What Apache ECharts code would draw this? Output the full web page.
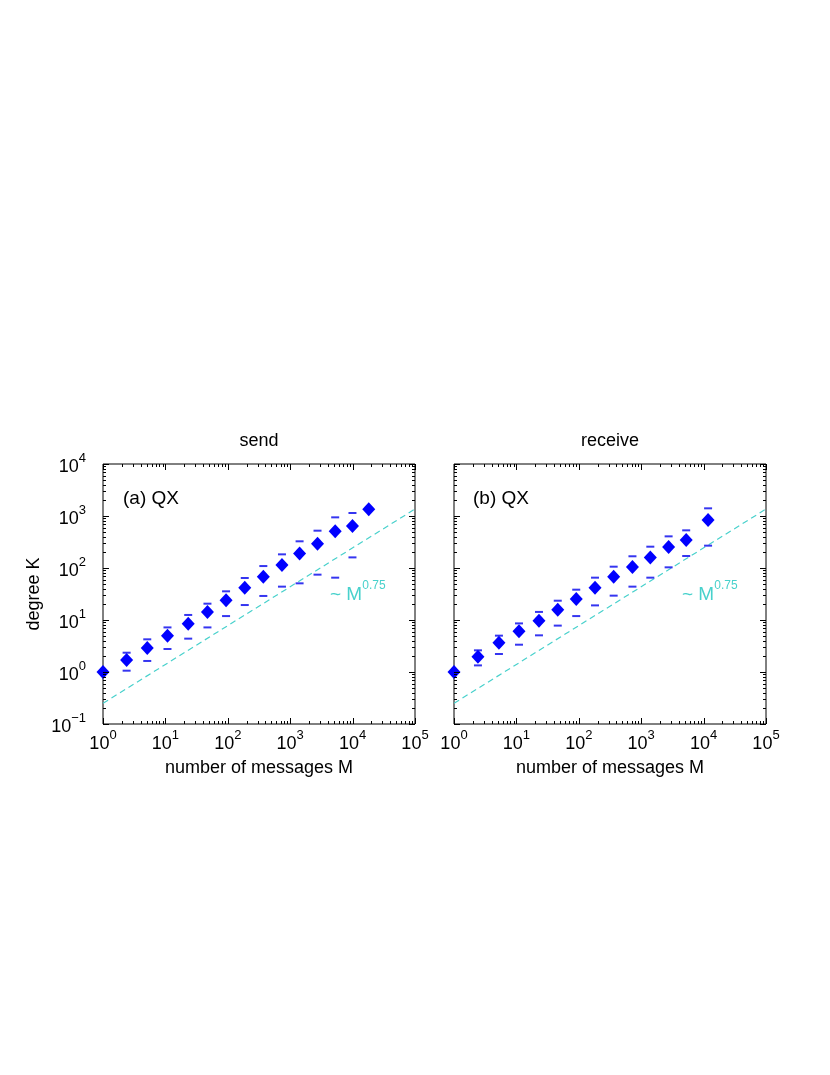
<!DOCTYPE html>
<html><head><meta charset="utf-8">
<script src="https://cdn.jsdelivr.net/npm/echarts@6/dist/echarts.min.js"></script>
<style>html,body{margin:0;padding:0;background:#fff}#c{width:830px;height:1075px}</style>
</head><body><div id="c"></div>
<script>
// ---- data ----
const sendM  = [1, 2.39, 5.12, 10.8, 23.2, 47.2, 93.8, 187, 371, 738, 1414, 2740, 5260, 9950, 18150];
const sendK  = [1, 1.70, 2.90, 5.0, 8.5, 14.3, 23.9, 41.9, 68.1, 114, 189, 294, 507, 642, 1343];
const sendHi = [null, 2.35, 4.25, 7.2, 12.5, 20.6, 35.6, 64.3, 109, 183, 326, 522, 942, 1142, null];
const sendLo = [null, 1.06, 1.63, 2.77, 4.38, 7.2, 11.9, 19.4, 29.0, 43.8, 50.7, 74.5, 65.2, 160, null];

const recvM  = [1, 2.42, 5.25, 11.0, 23.0, 46.0, 91.0, 182, 362, 724, 1400, 2750, 5260, 11800];
const recvK  = [1, 1.97, 3.66, 6.05, 9.7, 15.8, 25.3, 41.9, 68.1, 105, 160, 253, 345, 838];
const recvHi = [null, 2.61, 5.0, 8.6, 14.3, 23.5, 38.3, 65.2, 106, 168, 257, 406, 530, 1404];
const recvLo = [null, 1.34, 2.22, 3.35, 5.07, 7.8, 11.9, 19.1, 29.4, 43.8, 65.2, 103, 170, 269];

const guideM = [1, 100000];          // ~ M^0.75 guide line end points
const guideK = [0.25, 1360];

const titles = ['send', 'receive'];
const panelLabels = ['(a) QX', '(b) QX'];
const xTitle = 'number of messages M';
const yTitle = 'degree K';
const xExp = [0, 1, 2, 3, 4, 5];
const yExp = [-1, 0, 1, 2, 3, 4];

// ---- build ----
const FONT = '"Liberation Sans", Arial, Helvetica, sans-serif';
const BLUE = '#0000ff';
const BAR = '#3535f0';
const CYAN = '#48d1cc';

const pair = (xs, ys) => xs.map((x, i) => [x, ys[i]]).filter(p => p[1] != null);

function expLabel(v) {
  const e = Math.round(Math.log10(v));
  return '{b|10}{s|' + (e < 0 ? '\u2212' + (-e) : e) + '}';
}
const labelRich = {
  b: { fontSize: 18, fontFamily: FONT, color: '#000', lineHeight: 24, verticalAlign: 'bottom' },
  s: { fontSize: 13, fontFamily: FONT, color: '#000', lineHeight: 13, verticalAlign: 'top' }
};

const xMin = Math.pow(10, xExp[0]), xMax = Math.pow(10, xExp[xExp.length - 1]);
const yMin = Math.pow(10, yExp[0]), yMax = Math.pow(10, yExp[yExp.length - 1]);

// tick values (axis decoration): majors at decades, minors at 2..9 x decade
function tickVals(exps) {
  const out = [];
  for (let i = 0; i < exps.length - 1; i++) {
    const d = Math.pow(10, exps[i]);
    for (let k = 1; k <= 9; k++) out.push({ v: k * d, major: k === 1 });
  }
  out.push({ v: Math.pow(10, exps[exps.length - 1]), major: true });
  return out;
}
const xTicks = tickVals(xExp), yTicks = tickVals(yExp);

function tickSeries(gi) {
  return {
    type: 'custom', xAxisIndex: gi, yAxisIndex: gi, data: [[1, 1]], silent: true, clip: false, z: 10,
    renderItem(params, api) {
      const bl = api.coord([xMin, yMin]);
      const tr = api.coord([xMax, yMax]);
      const ch = [];
      const ln = (x1, y1, x2, y2) => ({ type: 'line', shape: { x1, y1, x2, y2 }, style: { stroke: '#000', lineWidth: 1 } });
      xTicks.forEach(t => {
        const p = Math.round(api.coord([t.v, 1])[0]) + 0.5;
        const L = t.major ? 6 : 3;
        ch.push(ln(p, bl[1], p, bl[1] - L));
        ch.push(ln(p, tr[1], p, tr[1] + L));
      });
      yTicks.forEach(t => {
        const p = Math.round(api.coord([1, t.v])[1]) + 0.5;
        const L = t.major ? 6 : 3;
        ch.push(ln(bl[0], p, bl[0] + L, p));
        ch.push(ln(tr[0], p, tr[0] - L, p));
      });
      return { type: 'group', children: ch };
    }
  };
}

const grids = [
  { left: 103, top: 464, width: 312, height: 260 },
  { left: 454, top: 464, width: 312, height: 260 }
].map(g => Object.assign(g, { show: true, borderColor: '#000', borderWidth: 1, backgroundColor: 'transparent' }));

const xAxes = [0, 1].map(i => ({
  type: 'log', logBase: 10, gridIndex: i, min: xMin, max: xMax,
  axisLine: { show: false }, axisTick: { show: false }, splitLine: { show: false },
  axisLabel: { formatter: expLabel, rich: labelRich, margin: 5, showMinLabel: true, showMaxLabel: true },
  name: xTitle, nameLocation: 'middle', nameGap: 35,
  nameTextStyle: { fontSize: 18, fontFamily: FONT, color: '#000' }
}));
const yAxes = [0, 1].map(i => ({
  type: 'log', logBase: 10, gridIndex: i, min: yMin, max: yMax,
  axisLine: { show: false }, axisTick: { show: false }, splitLine: { show: false },
  axisLabel: { show: i === 0, formatter: expLabel, rich: labelRich, margin: 17, showMinLabel: true, showMaxLabel: true },
  name: i === 0 ? yTitle : '', nameLocation: 'middle', nameGap: 60, nameRotate: 90,
  nameTextStyle: { fontSize: 18, fontFamily: FONT, color: '#000' }
}));

const panels = [
  { M: sendM, K: sendK, hi: sendHi, lo: sendLo },
  { M: recvM, K: recvK, hi: recvHi, lo: recvLo }
];
const series = [];
panels.forEach((p, i) => {
  series.push({
    type: 'line', xAxisIndex: i, yAxisIndex: i, data: pair(guideM, guideK), showSymbol: false,
    lineStyle: { color: CYAN, width: 1.2, type: [6, 4] }, silent: true, z: 2
  });
  series.push({
    type: 'scatter', xAxisIndex: i, yAxisIndex: i, data: pair(p.M, p.hi).concat(pair(p.M, p.lo)),
    symbol: 'rect', symbolSize: [8, 2], itemStyle: { color: BAR, opacity: 1 }, silent: true, z: 3
  });
  series.push({
    type: 'scatter', xAxisIndex: i, yAxisIndex: i, data: pair(p.M, p.K),
    symbol: 'diamond', symbolSize: [13, 14], itemStyle: { color: BLUE, opacity: 1 }, silent: true, z: 4
  });
  series.push(tickSeries(i));
});

const txt = (text, x, y, align, extra) => ({
  type: 'text', x, y, silent: true,
  style: Object.assign({ text, fontSize: 18, fontFamily: FONT, fill: '#000', textAlign: align, textVerticalAlign: 'middle' }, extra || {})
});
const powRich = {
  a: { fontSize: 19, fontFamily: FONT, fill: CYAN, color: CYAN, lineHeight: 24, verticalAlign: 'bottom' },
  e: { fontSize: 12, fontFamily: FONT, fill: CYAN, color: CYAN, lineHeight: 12, verticalAlign: 'top' }
};
const graphic = [
  txt(titles[0], 259, 441, 'center'),
  txt(titles[1], 610, 441, 'center'),
  txt(panelLabels[0], 123, 499, 'left', { fontSize: 19 }),
  txt(panelLabels[1], 473, 499, 'left', { fontSize: 19 }),
  txt('{a|~ M}{e|0.75}', 330, 592, 'left', { rich: powRich, fill: CYAN }),
  txt('{a|~ M}{e|0.75}', 682, 592, 'left', { rich: powRich, fill: CYAN })
];

const chart = echarts.init(document.getElementById('c'), null, { renderer: 'canvas' });
chart.setOption({
  animation: false, backgroundColor: '#fff',
  grid: grids, xAxis: xAxes, yAxis: yAxes, series, graphic
});
</script></body></html>
